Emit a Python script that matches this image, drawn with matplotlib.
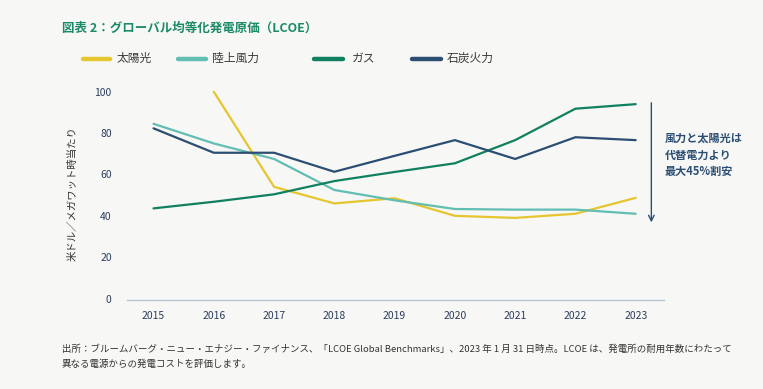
import matplotlib.pyplot as plt
from matplotlib.lines import Line2D

plt.rcParams['font.family'] = ['Noto Sans CJK JP', 'DejaVu Sans']

years = [2015, 2016, 2017, 2018, 2019, 2020, 2021, 2022, 2023]
solar_years = [2016, 2017, 2018, 2019, 2020, 2021, 2022, 2023]
solar = [100, 54, 46, 48.5, 40, 39, 41, 48.7]
wind = [84.5, 75, 67.5, 52.5, 47.5, 43.3, 43, 43, 41]
gas = [43.6, 46.8, 50.4, 56.8, 61.2, 65.4, 76.6, 91.8, 94]
coal = [82.3, 70.5, 70.5, 61.3, 69, 76.6, 67.5, 78, 76.6]
y_ticks = [0, 20, 40, 60, 80, 100]
names = ['太陽光', '陸上風力', 'ガス', '石炭火力']
colors = ['#e5c62f', '#62bdb2', '#10805f', '#2c4e72']

title = '図表 2：グローバル均等化発電原価（LCOE）'
ylabel = '米ドル／メガワット時当たり'
note = '風力と太陽光は\n代替電力より\n最大45%割安'
source = ('出所：ブルームバーグ・ニュー・エナジー・ファイナンス、「LCOE Global Benchmarks」、2023 年 1 月 31 日時点。LCOE は、発電所の耐用年数にわたって\n'
          '異なる電源からの発電コストを評価します。')

bg = '#f7f7f5'
W, H = 763, 389
fig = plt.figure(figsize=(W / 100, H / 100), dpi=100, facecolor=bg)
ax = fig.add_axes([127 / W, 1 - 300 / H, (664 - 127) / W, (300 - 87.6) / H])
ax.set_facecolor(bg)

series = [(solar_years, solar), (years, wind), (years, gas), (years, coal)]
for (xs, ys), c in zip(series, colors):
    ax.plot(xs, ys, color=c, lw=1.6, solid_capstyle='round', solid_joinstyle='miter', clip_on=False)

ax.set_xlim(2014.56, 2023.47)
ax.set_ylim(-0.7, 102)
ax.set_xticks(years)
ax.set_yticks(y_ticks)
ax.tick_params(length=0, colors='#2c3e5c', labelsize=7.5)
ax.tick_params(axis='y', pad=11)
ax.tick_params(axis='x', pad=8)
for s in ['top', 'right', 'left']:
    ax.spines[s].set_visible(False)
ax.spines['bottom'].set_color('#b9c6d3')
ax.spines['bottom'].set_linewidth(1.0)

ax.set_ylabel(ylabel, fontsize=7.5, color='#333333', labelpad=12)

# arrow and note
ax.annotate('', xy=(2023.26, 35.5), xytext=(2023.26, 96), xycoords='data',
            arrowprops=dict(arrowstyle='->', color='#2c4e72', lw=1.0, mutation_scale=10),
            annotation_clip=False)
fig.text(665 / W, 1 - 155 / H, note, fontsize=8, color='#2c4e72', fontweight='bold',
         va='center', ha='left', linespacing=1.35)

# title
fig.text(62 / W, 1 - 28 / H, title, fontsize=9, color='#1a8a68', fontweight='bold', va='center')

# legend
leg_x = [(83, 110, 117), (178, 206, 212), (314, 343, 352), (412, 441, 447)]
for (x0, x1, xt), name, c in zip(leg_x, names, colors):
    fig.add_artist(Line2D([x0 / W, x1 / W], [1 - 58.5 / H] * 2, color=c, lw=3.2,
                          solid_capstyle='round', transform=fig.transFigure))
    fig.text(xt / W, 1 - 58.5 / H, name, fontsize=8.5, color='#3a3a3a', va='center')

fig.text(62 / W, 1 - 356.5 / H, source, fontsize=6.8, color='#333333', va='center', linespacing=1.75)

fig.savefig('out.png', dpi=100, facecolor=bg)
